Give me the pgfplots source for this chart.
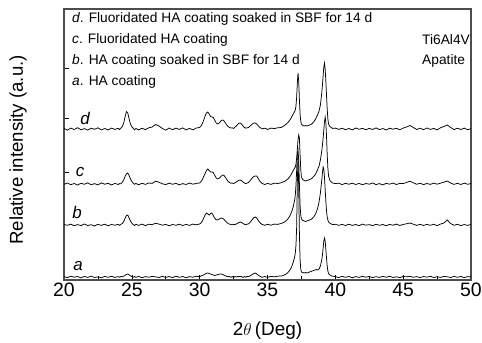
\documentclass[border=0pt]{standalone}
\usepackage{pgfplots}
\usepackage{pgfplotstable}
\pgfplotsset{compat=1.18}
\usepackage{fontspec}
\setmainfont{Liberation Sans}
\pgfplotstableread{
x a b c d
20.00 0.3 0.5 -0.4 0.6
20.25 -0.6 -0.3 1.0 -1.2
20.50 0.8 0.9 -0.7 0.9
20.75 -0.2 -0.8 0.5 -0.5
21.00 0.5 0.4 -1.1 1.3
21.25 -0.9 -0.6 0.8 -0.8
21.50 0.6 1.0 -0.3 0.4
21.75 -0.4 -0.5 1.2 -1.1
22.00 0.9 0.3 -0.8 0.8
22.25 -0.5 -1.0 0.4 -0.3
22.50 0.2 0.7 -0.9 1.2
22.75 -0.8 -0.4 1.1 -0.9
23.00 0.6 0.8 -0.2 0.5
23.25 -0.3 -0.7 0.7 -1.0
23.50 0.7 0.5 -1.0 0.9
23.75 -0.4 -0.2 0.6 -0.4
24.00 0.4 0.6 -0.5 0.7
24.10 -0.2 -0.3 0.4 -0.6
24.20 0.5 0.8 0.3 1.0
24.30 0.3 1.5 1.8 2.5
24.40 0.9 3.5 4.0 6.0
24.50 1.6 6.5 7.5 12.0
24.60 2.6 9.5 10.0 17.5
24.70 3.0 10.0 11.0 16.0
24.80 2.2 7.0 8.5 10.0
24.90 1.2 4.0 5.0 5.0
25.00 0.4 1.8 2.5 2.2
25.10 -0.3 0.5 0.8 0.8
25.20 0.5 -0.6 -0.3 -0.9
25.30 -0.4 0.7 0.6 0.6
25.50 0.6 -0.4 -0.8 -1.0
25.75 -0.7 0.9 0.7 0.8
26.00 0.4 -0.6 -0.4 -0.6
26.25 -0.2 0.8 1.0 1.2
26.50 0.6 0.3 0.6 2.0
26.75 0.2 1.8 2.8 4.5
27.00 -0.5 0.9 1.8 3.0
27.25 0.7 -0.2 0.2 0.5
27.50 -0.4 0.6 -0.6 -1.2
27.75 0.5 -0.8 0.9 1.0
28.00 -0.6 0.5 -0.3 -0.7
28.25 0.8 -0.3 0.7 0.9
28.50 -0.3 0.8 -0.9 -0.4
28.75 0.5 -0.5 0.4 1.1
29.00 -0.8 0.6 -0.5 -0.9
29.25 0.4 -0.4 1.0 0.6
29.50 -0.2 0.9 -0.2 -0.8
29.75 0.7 0.2 0.6 1.0
30.00 0.3 1.0 1.0 1.5
30.10 1.0 2.0 2.5 3.0
30.20 1.5 4.0 4.5 5.5
30.30 2.2 7.0 7.5 9.0
30.40 3.0 10.0 10.5 13.0
30.50 3.8 12.0 13.5 16.0
30.60 4.0 11.0 15.0 17.0
30.70 3.5 10.0 13.5 15.0
30.80 3.0 11.5 12.0 12.5
30.90 2.5 12.0 12.0 12.0
31.00 2.0 9.5 11.5 11.5
31.10 1.5 7.0 9.0 9.0
31.20 1.8 5.5 6.5 6.5
31.30 2.2 5.0 5.0 5.0
31.40 2.6 5.5 5.5 5.5
31.50 3.0 6.5 6.5 7.0
31.60 3.0 7.0 8.0 8.5
31.70 2.5 6.5 9.0 9.0
31.80 1.8 5.5 8.5 8.0
31.90 1.2 4.0 6.5 6.0
32.00 0.6 2.5 4.5 4.0
32.10 0.2 1.5 2.5 2.5
32.20 0.6 0.8 1.5 1.5
32.30 -0.3 0.5 0.8 1.0
32.40 0.4 0.2 1.0 1.2
32.50 -0.4 0.8 0.4 0.5
32.60 0.5 0.3 1.2 1.8
32.70 0.0 1.0 2.0 3.0
32.80 0.6 1.8 3.0 4.5
32.90 0.3 2.5 3.8 5.8
33.00 0.7 3.0 4.0 6.0
33.10 0.2 2.5 3.2 4.8
33.20 -0.4 1.5 2.0 3.0
33.30 0.5 0.6 1.0 1.5
33.40 -0.2 0.2 0.4 0.8
33.50 0.6 0.8 0.9 1.2
33.60 0.3 1.2 1.5 1.5
33.70 1.0 2.5 3.0 2.8
33.80 1.8 4.0 4.8 4.0
33.90 2.8 6.0 6.5 5.2
34.00 3.5 7.5 7.5 6.0
34.10 4.0 8.0 8.0 6.0
34.20 3.2 7.0 8.0 5.0
34.30 2.0 5.0 6.0 3.5
34.40 1.0 3.0 3.5 2.0
34.50 0.4 1.5 1.8 1.0
34.60 -0.3 0.6 0.6 0.2
34.80 0.5 -0.3 -0.5 0.8
35.00 -0.4 0.7 0.6 -0.5
35.25 0.6 -0.2 -0.4 0.9
35.50 0.2 0.9 0.8 0.4
35.75 0.8 0.6 0.5 1.2
36.00 1.0 1.5 1.2 1.5
36.10 1.2 2.0 1.8 2.2
36.20 1.8 2.6 2.2 3.0
36.30 2.4 3.5 3.0 4.0
36.40 3.3 4.6 4.0 5.0
36.50 4.5 6.0 5.0 6.5
36.60 6.0 8.0 6.5 8.0
36.70 8.0 10.5 8.5 10.0
36.80 11.0 14.0 11.0 12.5
36.90 15.0 18.5 13.5 15.0
37.00 20.0 25.0 16.0 17.5
37.05 24.0 30.0 17.0 19.0
37.10 32.0 40.0 20.0 23.0
37.15 50.0 55.0 26.0 32.0
37.20 95.0 70.0 35.0 46.0
37.25 120.0 75.0 44.0 56.0
37.30 90.0 65.0 49.0 48.0
37.35 45.0 42.0 46.0 30.0
37.40 18.0 20.0 30.0 15.0
37.45 8.0 10.0 15.0 8.0
37.50 5.0 6.0 7.0 5.0
37.60 4.5 4.5 4.5 3.5
37.70 4.0 4.0 3.5 3.0
37.80 4.5 3.5 3.0 3.5
37.90 4.0 4.0 3.5 3.0
38.00 4.5 4.5 3.8 3.5
38.10 5.0 5.0 4.5 4.0
38.20 5.5 5.5 5.0 4.5
38.30 6.0 6.5 6.0 5.5
38.40 6.5 8.0 7.5 7.0
38.50 7.0 10.0 9.0 9.0
38.60 7.5 13.0 11.5 11.5
38.70 7.0 17.0 14.5 14.5
38.80 8.0 23.0 18.0 18.0
38.90 11.0 32.0 24.0 24.0
39.00 17.0 45.0 33.0 36.0
39.05 22.0 52.0 39.0 44.0
39.10 29.0 58.0 46.0 53.0
39.15 36.0 56.0 54.0 62.0
39.20 39.0 48.0 62.0 66.0
39.25 36.0 36.0 67.0 60.0
39.30 28.0 24.0 62.0 48.0
39.35 19.0 14.0 48.0 34.0
39.40 11.0 8.0 30.0 20.0
39.45 6.0 5.0 16.0 10.0
39.50 3.5 3.0 8.0 5.0
39.60 2.0 1.8 3.5 2.5
39.70 1.2 1.0 2.0 1.5
39.80 0.8 0.4 1.0 0.6
40.00 0.3 0.7 0.4 0.9
40.25 -0.5 -0.3 0.8 -0.4
40.50 0.6 0.6 -0.6 0.8
40.75 -0.3 -0.5 0.7 -0.7
41.00 0.5 0.8 -0.3 0.5
41.25 -0.7 -0.4 0.9 -0.9
41.50 0.4 0.5 -0.5 1.0
41.75 -0.4 -0.7 0.6 -0.3
42.00 0.7 0.9 -0.8 0.7
42.25 -0.2 -0.2 0.5 -0.8
42.50 0.5 0.4 -0.2 0.6
42.75 -0.6 -0.6 1.0 -0.5
43.00 0.3 0.7 -0.6 1.1
43.25 -0.4 -0.3 0.4 -0.6
43.50 0.6 0.5 -0.9 0.5
43.75 -0.3 -0.8 0.7 -1.0
44.00 0.8 0.6 -0.2 0.8
44.25 -0.5 -0.2 0.9 -0.2
44.50 0.2 0.9 -0.5 0.7
44.75 -0.6 -0.5 0.6 -0.8
45.00 0.5 0.6 0.4 0.9
45.25 0.2 1.2 1.5 2.0
45.50 0.7 2.0 2.8 3.5
45.75 -0.3 0.8 1.2 1.5
46.00 0.4 -0.4 -0.3 -0.5
46.25 -0.6 0.7 0.8 0.8
46.50 0.5 -0.5 -0.6 -0.7
46.75 -0.2 0.6 0.5 1.0
47.00 0.7 -0.3 -0.4 -0.4
47.25 -0.5 0.8 0.9 0.6
47.50 0.3 -0.6 -0.2 -0.9
47.75 -0.4 0.9 0.8 1.2
48.00 0.6 2.0 1.8 2.5
48.25 0.2 5.0 3.0 4.0
48.50 -0.5 1.5 1.0 1.5
48.75 0.6 -0.3 -0.4 -0.6
49.00 -0.3 0.7 0.7 0.8
49.25 0.5 -0.6 -0.5 -0.5
49.50 -0.6 0.5 0.9 0.9
49.75 0.4 -0.4 -0.3 -0.7
50.00 0.1 0.6 0.5 0.4
}\xrd
\begin{document}
\begin{tikzpicture}
\begin{axis}[
  at={(0,0)}, anchor=south west,
  scale only axis, width=407bp, height=271bp,
  xmin=20, xmax=50, ymin=0, ymax=271,
  xtick={20,25,...,50},
  minor xtick={22.5,27.5,...,47.5},
  ytick={108,162,212}, yticklabels={},
  xtick pos=bottom, ytick pos=left,
  tick align=inside,
  major tick length=5bp, minor tick length=4bp,
  tick style={black, line width=0.6pt},
  axis line style={black!70, line width=1.2pt},
  /pgf/number format/assume math mode=true,
  xticklabel style={font=\fontsize{19.5}{23}\selectfont, inner sep=1pt, yshift=-2bp},
  xlabel={2$\theta$\,(Deg)},
  xlabel style={font=\fontsize{19}{23}\selectfont, at={(rel axis cs:0.5,0)}, anchor=center, yshift=-51bp},
  ylabel={Relative intensity (a.u.)},
  ylabel style={font=\fontsize{18.7}{22}\selectfont, at={(rel axis cs:0,0.48)}, anchor=center, yshift=46bp},
  clip=true,
]
\addplot[black, line width=0.75pt] table[x=x, y expr=\thisrow{a}+3] {\xrd};
\addplot[black, line width=0.75pt] table[x=x, y expr=\thisrow{b}+55] {\xrd};
\addplot[black, line width=0.75pt] table[x=x, y expr=\thisrow{c}+96] {\xrd};
\addplot[black, line width=0.75pt] table[x=x, y expr=\thisrow{d}+151] {\xrd};
\begin{scope}[every node/.style={font=\fontsize{13.8}{16}\selectfont, inner sep=0pt, anchor=west}]
\node at (axis cs:20.59,261) {\textit{d}. Fluoridated HA coating soaked in SBF for 14 d};
\node at (axis cs:20.59,240) {\textit{c}. Fluoridated HA coating};
\node at (axis cs:20.59,219) {\textit{b}. HA coating soaked in SBF for 14 d};
\node at (axis cs:20.59,198) {\textit{a}. HA coating};
\node at (axis cs:46.39,240) {Ti6Al4V};
\node at (axis cs:46.39,219) {Apatite};
\end{scope}
\begin{scope}[every node/.style={font=\fontsize{17}{19}\selectfont\itshape, inner sep=0pt, anchor=center}]
\node at (axis cs:21.55,162) {d};
\node at (axis cs:21.18,108) {c};
\node at (axis cs:20.96,68) {b};
\node at (axis cs:21.03,14) {a};
\end{scope}
\end{axis}
\pgfresetboundingbox
\path[use as bounding box] (-64bp,-63bp) rectangle (418bp,280bp);
\end{tikzpicture}
\end{document}
